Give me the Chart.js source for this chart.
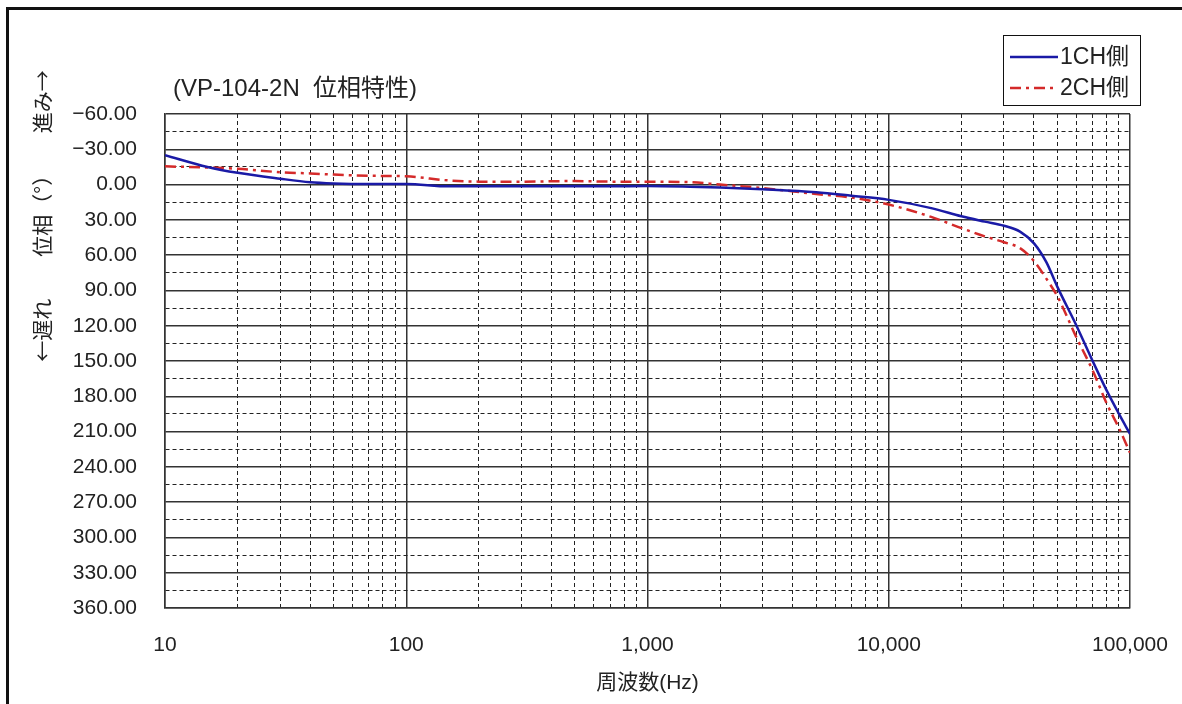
<!DOCTYPE html>
<html>
<head>
<meta charset="utf-8">
<script src="https://cdn.jsdelivr.net/npm/chart.js@4"></script>
<style>
  body { margin: 0; background: #fff; }
  #wrap { position: relative; width: 1182px; height: 704px; overflow: hidden; }
  #frame { position: absolute; left: 6px; top: 7px; width: 1200px; height: 720px; border: 3px solid #111; box-sizing: border-box; }
  canvas { position: absolute; left: 0; top: 0; }
</style>
</head>
<body>
<div id="wrap">
  <div id="frame"></div>
  <canvas id="phaseChart" width="1182" height="704"></canvas>
</div>
<script>
// frequency points (Hz)
const freqs = [10, 15, 20, 30, 40, 50, 70, 100, 150, 200, 300, 500, 700, 1000, 1500, 2000, 3000, 5000, 7000,
    10000, 15000, 20000, 25000, 30000, 35000, 40000, 45000, 50000, 60000, 70000, 80000, 90000, 100000];

// phase (deg), positive = lag
const phase1CH = [-25, -15, -10, -5, -2, -1, -0.5, -0.5, 1.5, 1.5, 1.5, 1.5, 1.5, 1.2, 1.8, 2.5, 4, 6.5, 9.5,
    13, 20, 27, 31.5, 35, 40, 50, 66, 87, 120, 150, 175, 195, 212];
const phase2CH = [-15.5, -14.5, -13.5, -10.5, -9.5, -8.5, -7.5, -7, -3.5, -2.5, -2.5, -3, -2.5, -2.5, -2, 0, 3, 8, 11,
    17, 27.5, 37, 44, 49, 54, 65, 80, 95, 130, 158, 186, 207, 228];

const seriesLabels = ["1CH側", "2CH側"];

// tick labels
const xDecades = [10, 100, 1000, 10000, 100000];
const yMajor = [-60, -30, 0, 30, 60, 90, 120, 150, 180, 210, 240, 270, 300, 330, 360];

const chartTitle = "(VP-104-2N  位相特性)";
const xTitle = "周波数(Hz)";
const yTitle = "←遅れ　　位相（°）　　進み→";

const FONT = '"Liberation Sans", "Noto Sans CJK JP", sans-serif';
const CJK_FONT = '"Noto Sans CJK JP", sans-serif';

// gridline positions: 1..9 per decade, and every 15 deg
const xGrid = [];
for (let i = 0; i < xDecades.length - 1; i++) {
    for (let m = 1; m < 10; m++) xGrid.push(xDecades[i] * m);
}
xGrid.push(xDecades[xDecades.length - 1]);
const yGrid = [];
for (let i = 0; i < yMajor.length; i++) {
    yGrid.push(yMajor[i]);
    if (i < yMajor.length - 1) yGrid.push(yMajor[i] + 15);
}

const toPoints = (ys) => freqs.map((f, i) => ({ x: f, y: ys[i] }));

const isXMajor = (v) => xDecades.includes(v);
const isYMajor = (v) => yMajor.includes(v);

const textPlugin = {
    id: "texts",
    afterDraw(chart) {
        const ctx = chart.ctx;
        ctx.save();
        ctx.fillStyle = "#222";

        // chart title
        ctx.font = "24px " + FONT;
        ctx.textAlign = "left";
        ctx.textBaseline = "middle";
        ctx.fillText(chartTitle, 173, 89);

        // y axis title (vertical)
        ctx.save();
        ctx.translate(42, 216);
        ctx.rotate(-Math.PI / 2);
        ctx.textAlign = "center";
        ctx.font = "21px " + CJK_FONT;
        ctx.fillText(yTitle, 0, 0);
        ctx.restore();

        // legend box
        ctx.strokeStyle = "#111";
        ctx.lineWidth = 1;
        ctx.strokeRect(1003.5, 35.5, 137, 70);
        const rows = [57, 88];
        chart.data.datasets.forEach((ds, i) => {
            ctx.beginPath();
            ctx.strokeStyle = ds.borderColor;
            ctx.lineWidth = ds.borderWidth;
            ctx.setLineDash(ds.borderDash || []);
            ctx.moveTo(1010, rows[i]);
            ctx.lineTo(1058, rows[i]);
            ctx.stroke();
            ctx.setLineDash([]);
            ctx.font = "23px " + FONT;
            ctx.textAlign = "left";
            ctx.fillText(ds.label, 1060, rows[i] + 1);
        });
        ctx.restore();
    }
};

new Chart(document.getElementById("phaseChart"), {
    type: "line",
    data: {
        datasets: [
            {
                label: seriesLabels[0],
                data: toPoints(phase1CH),
                borderColor: "#1a1aa6",
                borderWidth: 2.5,
                pointRadius: 0,
                cubicInterpolationMode: "monotone",
                fill: false
            },
            {
                label: seriesLabels[1],
                data: toPoints(phase2CH),
                borderColor: "#d42a2a",
                borderWidth: 2.5,
                borderDash: [11, 5, 3, 5],
                pointRadius: 0,
                cubicInterpolationMode: "monotone",
                fill: false
            }
        ]
    },
    options: {
        responsive: false,
        animation: false,
        layout: { padding: { left: 0, top: 114, right: 52, bottom: 0 } },
        plugins: {
            legend: { display: false },
            tooltip: { enabled: false }
        },
        scales: {
            x: {
                type: "logarithmic",
                min: 10,
                max: 100000,
                afterBuildTicks: (axis) => { axis.ticks = xGrid.map(v => ({ value: v })); },
                afterFit: (axis) => {
                    axis.height = 96;
                    axis.paddingLeft = 0;
                    axis.paddingRight = 0;
                },
                ticks: {
                    autoSkip: false,
                    maxRotation: 0,
                    minRotation: 0,
                    padding: 25,
                    color: "#222",
                    font: { family: FONT, size: 21 },
                    callback: (v) => isXMajor(v) ? v.toLocaleString("en-US") : ""
                },
                grid: {
                    drawTicks: false,
                    color: (c) => isXMajor(c.tick.value) ? "#333" : "#222",
                    lineWidth: (c) => isXMajor(c.tick.value) ? 1.5 : 1
                },
                border: {
                    display: true,
                    color: "#333",
                    width: 1.5,
                    dash: (c) => (c.tick && !isXMajor(c.tick.value)) ? [4, 3] : []
                },
                title: {
                    display: true,
                    text: xTitle,
                    color: "#222",
                    font: { family: FONT, size: 21 },
                    padding: { top: 0, bottom: 8 }
                }
            },
            y: {
                type: "linear",
                reverse: true,
                min: -60,
                max: 360,
                afterBuildTicks: (axis) => { axis.ticks = yGrid.map(v => ({ value: v })); },
                afterFit: (axis) => {
                    axis.width = 165;
                    axis.paddingTop = 0;
                    axis.paddingBottom = 0;
                },
                ticks: {
                    autoSkip: false,
                    padding: 28,
                    color: "#222",
                    font: { family: FONT, size: 21 },
                    callback: (v) => isYMajor(v) ? v.toFixed(2).replace("-", "−") : ""
                },
                grid: {
                    drawTicks: false,
                    color: (c) => isYMajor(c.tick.value) ? "#333" : "#222",
                    lineWidth: (c) => isYMajor(c.tick.value) ? 1.5 : 1
                },
                border: {
                    display: true,
                    color: "#333",
                    width: 1.5,
                    dash: (c) => (c.tick && !isYMajor(c.tick.value)) ? [4, 3] : []
                }
            }
        }
    },
    plugins: [textPlugin]
});
</script>
</body>
</html>
